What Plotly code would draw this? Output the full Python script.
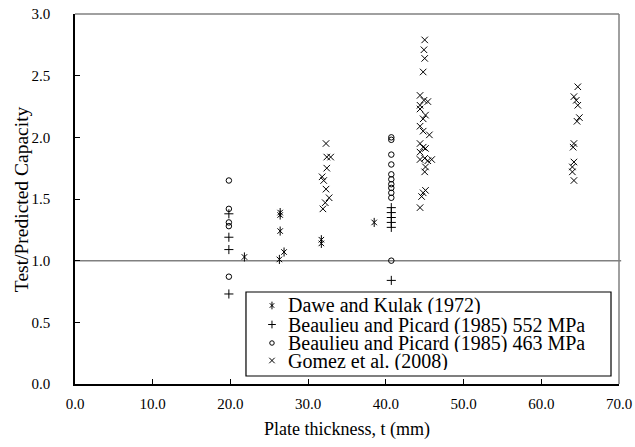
import plotly.graph_objects as go

# Dawe and Kulak (1972)
dawe_t = [21.8, 26.4, 26.4, 26.4, 26.3, 26.9, 31.7, 31.7, 38.5]
dawe_r = [1.03, 1.39, 1.37, 1.24, 1.01, 1.07, 1.17, 1.14, 1.31]

# Beaulieu and Picard (1985), 552 MPa
bp552_t = [19.8, 19.8, 19.8, 19.8, 40.7, 40.7, 40.7, 40.7, 40.7, 40.7]
bp552_r = [1.38, 1.19, 1.09, 0.73, 1.43, 1.39, 1.35, 1.31, 1.27, 0.84]

# Beaulieu and Picard (1985), 463 MPa
bp463_t = [19.8, 19.8, 19.8, 19.8, 19.8,
           40.7, 40.7, 40.7, 40.7, 40.7, 40.7, 40.7, 40.7, 40.7, 40.7, 40.7]
bp463_r = [1.65, 1.42, 1.31, 1.28, 0.87,
           2.00, 1.98, 1.86, 1.78, 1.70, 1.66, 1.62, 1.59, 1.55, 1.51, 1.00]

# Gomez et al. (2008)
gomez_t = [32.3, 32.4, 32.9, 32.4, 31.8, 32.0, 32.3, 32.7, 32.2, 31.9,
           45.0, 44.9, 45.0, 44.8, 44.4, 44.9, 45.4, 44.4, 44.4, 45.1,
           44.8, 44.4, 44.8, 45.6, 44.4, 44.8, 45.1, 44.4, 44.4, 45.0,
           45.4, 45.9, 45.1, 45.0, 45.1, 44.8, 44.6, 44.4,
           64.7, 64.2, 64.5, 64.7, 64.9, 64.6, 64.2, 64.1, 64.2, 64.0, 64.0, 64.2]
gomez_r = [1.95, 1.84, 1.84, 1.75, 1.68, 1.65, 1.58, 1.51, 1.47, 1.42,
           2.79, 2.71, 2.64, 2.53, 2.34, 2.30, 2.29, 2.26, 2.23, 2.18,
           2.15, 2.09, 2.05, 2.02, 1.95, 1.92, 1.91, 1.88, 1.82, 1.83,
           1.81, 1.82, 1.76, 1.72, 1.57, 1.55, 1.52, 1.43,
           2.41, 2.33, 2.30, 2.26, 2.16, 2.13, 1.95, 1.92, 1.80, 1.76, 1.72, 1.65]

series_names = [
    "Dawe and Kulak (1972)",
    "Beaulieu and Picard (1985) 552 MPa",
    "Beaulieu and Picard (1985) 463 MPa",
    "Gomez et al. (2008)",
]

REF_LEVEL = 1.0

SERIF = "Liberation Serif"

# marker glyphs per series; a star is an "x" with a vertical stroke through it
styles = [
    [("x-thin-open", 5.5), ("line-ns-open", 6.5)],
    [("cross-thin-open", 6.5)],
    [("circle-open", 5.5)],
    [("x-thin-open", 6.5)],
]
xs = [dawe_t, bp552_t, bp463_t, gomez_t]
ys = [dawe_r, bp552_r, bp463_r, gomez_r]


def marker(symbol, size):
    return dict(symbol=symbol, size=size, color="black",
                line=dict(color="black", width=1))


fig = go.Figure()
for name, x, y, glyphs in zip(series_names, xs, ys, styles):
    for symbol, size in glyphs:
        fig.add_trace(go.Scatter(x=x, y=y, mode="markers", name=name,
                                 showlegend=False, marker=marker(symbol, size)))

# Boxed legend drawn inside the plot area (paper coordinates)
LEG_X0, LEG_X1, LEG_Y0, LEG_Y1 = 0.3143, 0.9853, 0.0216, 0.2486
LEG_KEY_X, LEG_TEXT_X = 0.3621, 0.3879
LEG_ROWS = [0.2122, 0.1608, 0.1108, 0.0635]

fig.add_shape(type="rect", xref="paper", yref="paper",
              x0=LEG_X0, x1=LEG_X1, y0=LEG_Y0, y1=LEG_Y1,
              line=dict(color="black", width=1.2),
              fillcolor="rgba(0,0,0,0)", layer="above")
for name, glyphs, ry in zip(series_names, styles, LEG_ROWS):
    for symbol, size in glyphs:
        fig.add_trace(go.Scatter(
            x=[LEG_KEY_X], y=[ry], xaxis="x2", yaxis="y2", mode="markers",
            showlegend=False, hoverinfo="skip", marker=marker(symbol, size - 1)))
    fig.add_annotation(text=name, xref="paper", yref="paper",
                       x=LEG_TEXT_X, y=ry, xanchor="left", yanchor="middle",
                       height=18, valign="middle", showarrow=False,
                       font=dict(family=SERIF, size=20, color="black"))

# Axis titles
fig.add_annotation(text="Test/Predicted Capacity", xref="paper", yref="paper",
                   x=-0.099, y=0.5, xanchor="center", yanchor="middle",
                   textangle=-90, showarrow=False,
                   font=dict(family=SERIF, size=19.5, color="black"))
fig.add_annotation(text="Plate thickness, t (mm)", xref="paper", yref="paper",
                   x=0.5, y=-0.124, xanchor="center", yanchor="middle",
                   showarrow=False,
                   font=dict(family=SERIF, size=18, color="black"))

# Reference level (test = predicted)
fig.add_shape(type="line", xref="paper", yref="y", x0=0, x1=1.004,
              y0=REF_LEVEL, y1=REF_LEVEL,
              line=dict(color="#808080", width=1.5), layer="below")
# Top and right frame lines
fig.add_shape(type="line", xref="paper", yref="paper", x0=0, x1=1, y0=1, y1=1,
              line=dict(color="#808080", width=1.5))
fig.add_shape(type="line", xref="paper", yref="paper", x0=1, x1=1, y0=0, y1=1,
              line=dict(color="#808080", width=1.5))

fig.update_layout(
    template="none",
    width=635, height=447,
    margin=dict(l=75, r=16, t=14, b=63, autoexpand=False),
    plot_bgcolor="white", paper_bgcolor="white",
    font=dict(family=SERIF, size=15, color="black"),
    showlegend=False,
    xaxis=dict(
        range=[0, 70], dtick=10, tick0=0, tickformat=".1f",
        showgrid=False, zeroline=False, automargin=False,
        showline=True, linecolor="black", linewidth=1.5,
        ticks="inside", ticklen=5, tickcolor="black",
        ticklabelstandoff=5,
        tickfont=dict(family=SERIF, size=15),
    ),
    yaxis=dict(
        range=[0, 3], dtick=0.5, tick0=0, tickformat=".1f",
        showgrid=False, zeroline=False, automargin=False,
        showline=True, linecolor="black", linewidth=1.5,
        ticks="inside", ticklen=5, tickcolor="black",
        ticklabelstandoff=20,
        tickfont=dict(family=SERIF, size=15),
    ),
    xaxis2=dict(overlaying="x", range=[0, 1], visible=False),
    yaxis2=dict(overlaying="y", range=[0, 1], visible=False),
)

fig.write_html("out.html")
